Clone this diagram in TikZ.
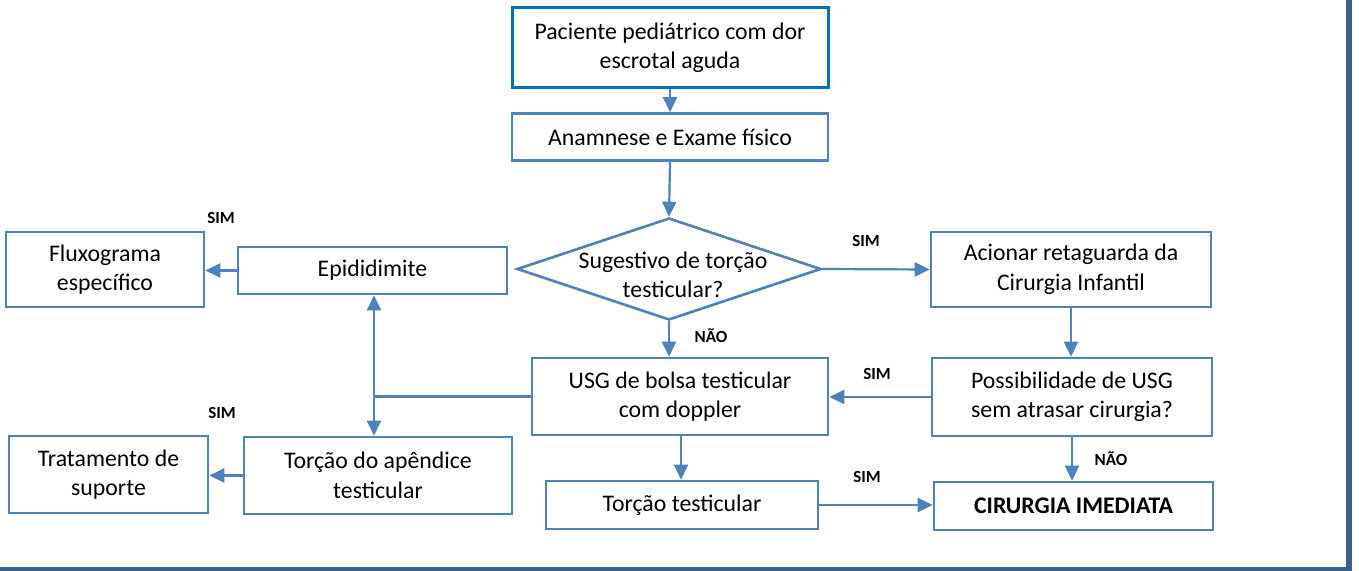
\documentclass[tikz,border=0pt]{standalone}
\usepackage{fontspec}
\setmainfont{Carlito}
\usetikzlibrary{arrows.meta,shapes.geometric}
\definecolor{bblue}{HTML}{4F81BD}
\definecolor{tblue}{HTML}{0070C0}
\definecolor{fblue}{HTML}{3B5F8E}
\tikzset{
 x=1bp,y=-1bp,
 txtfont/.style={font=\fontsize{23.8bp}{29.5bp}\selectfont},
 box/.style={draw=bblue, line width=2.6bp, fill=white, align=center, inner sep=0pt, txtfont},
 lab/.style={font=\fontsize{17bp}{19bp}\selectfont\bfseries, inner sep=0pt},
 conn/.style={draw=bblue, line width=2.2bp, -{Triangle[length=15bp,width=14bp]}},
 plain/.style={draw=bblue, line width=2.2bp},
}
\begin{document}
\begin{tikzpicture}
\useasboundingbox (0,0) rectangle (1359,571);
\fill[white] (0,0) rectangle (1359,571);
% frame
\fill[fblue] (1346,0) rectangle (1352,571);
\fill[fblue] (0,567) rectangle (1352,571);

\node[box, draw=tblue, line width=3bp, minimum width=316bp, minimum height=80bp] (p) at (670,48) {Paciente pediátrico com dor\\escrotal aguda};
\node[box, minimum width=316bp, minimum height=47bp] (a) at (670,137) {Anamnese e Exame físico};
\node[diamond, draw=bblue, line width=2.6bp, fill=white, inner sep=0pt, minimum width=304bp, minimum height=102bp] (d) at (669,269) {};
\node[align=center, inner sep=0pt, txtfont] (dt) at (673,275) {Sugestivo de torção\\testicular?};
\node[box, minimum width=269bp, minimum height=47bp] (e) at (372.5,270.5) {Epididimite};
\node[box, minimum width=198bp, minimum height=75bp] (f) at (105,269.5) {Fluxograma\\específico};
\node[box, minimum width=280bp, minimum height=75bp] (r) at (1071,269.5) {Acionar retaguarda da\\Cirurgia Infantil};
\node[box, minimum width=296bp, minimum height=77bp] (u) at (680,396.5) {USG de bolsa testicular\\com doppler};
\node[box, minimum width=280bp, minimum height=78bp] (q) at (1072,397) {Possibilidade de USG\\sem atrasar cirurgia?};
\node[box, minimum width=268bp, minimum height=77bp] (ap) at (378,475.5) {Torção do apêndice\\testicular};
\node[box, minimum width=199bp, minimum height=77bp] (ts) at (108.5,474.5) {Tratamento de\\suporte};
\node[box, minimum width=272bp, minimum height=48bp] (tt) at (682,505) {Torção testicular};
\node[box, minimum width=279bp, minimum height=48bp, font=\fontsize{23.8bp}{29.5bp}\selectfont\bfseries] (c) at (1073.5,506) {CIRURGIA IMEDIATA};

% labels
\node[lab] (l1) at (221,218) {SIM};
\node[lab] (l2) at (866,241) {SIM};
\node[lab] (l3) at (711,336) {NÃO};
\node[lab] (l4) at (877,374) {SIM};
\node[lab] (l5) at (222,413) {SIM};
\node[lab] (l6) at (867,477) {SIM};
\node[lab] (l7) at (1111,459) {NÃO};

% connectors
\draw[conn] (p.south) -- (a.north);
\draw[conn] (a.south) -- (d.north);
\draw[conn] (d.east) -- (r.west);
\draw[conn] (d.south) -- (d.south |- u.north);
\draw[conn] (e.west) -- (e.west -| f.east);
\draw[conn] (r.south) -- (r.south |- q.north);
\draw[conn] (q.west) -- (q.west -| u.east);
\coordinate (j) at (374,396.5);
\draw[plain] (u.west) -- (j);
\draw[conn] (j) -- (j |- e.south);
\draw[conn] (j) -- (j |- ap.north);
\draw[conn] (ap.west) -- (ap.west -| ts.east);
\draw[conn] (u.south -| 681,0) -- (681,0 |- tt.north);
\draw[conn] (tt.east) -- (tt.east -| c.west);
\draw[conn] (q.south) -- (q.south |- c.north);
\end{tikzpicture}
\end{document}
